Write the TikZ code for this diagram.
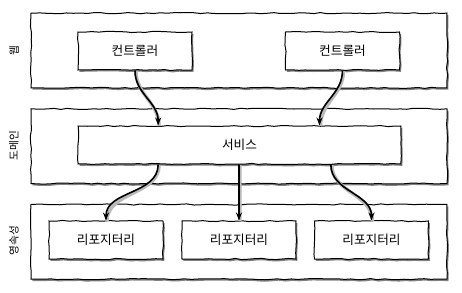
\documentclass[tikz,border=0pt]{standalone}
\usepackage{fontspec}
\setmainfont{Noto Sans CJK KR}
\usepackage{tikz}
\usetikzlibrary{arrows.meta, positioning, decorations.pathmorphing, shadows}
\definecolor{shadowgray}{RGB}{130,130,130}
\definecolor{halogray}{RGB}{185,185,185}

\begin{document}
\begin{tikzpicture}[x=0.75pt, y=-0.75pt,
  sketch/.style={draw, line width=0.75pt, fill=white, decorate,
                 decoration={random steps, segment length=5pt, amplitude=0.45pt},
                 drop shadow={shadow xshift=1.1pt, shadow yshift=-1.4pt, fill=shadowgray, opacity=1}},
  layer/.style={sketch, rectangle, minimum width=312pt, minimum height=56pt},
  comp/.style={sketch, rectangle, minimum width=85.5pt, minimum height=28.5pt,
               font=\fontsize{9.5}{11}\selectfont},
  side/.style={rotate=90, font=\fontsize{8}{9}\selectfont},
  arrow/.style={-{Stealth[length=6pt, width=4.5pt]}, line width=1.2pt,
                preaction={draw=halogray, line width=2.6pt, -, 
                           transform canvas={xshift=0.7pt, yshift=-0.5pt}}}
]
\pgfmathsetseed{11}
\useasboundingbox (0,0) rectangle (462,293);

% layers
\node[layer] (web) at (239,50.5) {};
\node[layer, below=15pt of web] (domain) {};
\node[layer, below=15pt of domain] (persist) {};

\node[side] (weblbl) at (14,50.5) {웹};
\node[side] (domainlbl) at (14,145.5) {도메인};
\node[side] (persistlbl) at (14,240.5) {영속성};

% web layer
\node[comp] (ctrla) at (135,51) {컨트롤러};
\node[comp] (ctrlb) at (342.5,51) {컨트롤러};

% domain layer
\node[comp, minimum width=242pt] (service) at (239.5,145) {서비스};

% persistence layer
\node[comp] (repoa) at (106,240) {리포지터리};
\node[comp] (repob) at (239,240) {리포지터리};
\node[comp] (repoc) at (371.5,240) {리포지터리};

\draw[arrow] (ctrla.south) to[out=-90, in=90] ([xshift=-61pt]service.north);
\draw[arrow] (ctrlb.south) to[out=-90, in=90] ([xshift=60pt]service.north);
\draw[arrow] ([xshift=-61pt]service.south) to[out=-90, in=90] (repoa.north);
\draw[arrow] ([xshift=-0.4pt]service.south) -- (repob.north);
\draw[arrow] ([xshift=68.5pt]service.south) to[out=-90, in=90] (repoc.north);

\end{tikzpicture}
\end{document}
